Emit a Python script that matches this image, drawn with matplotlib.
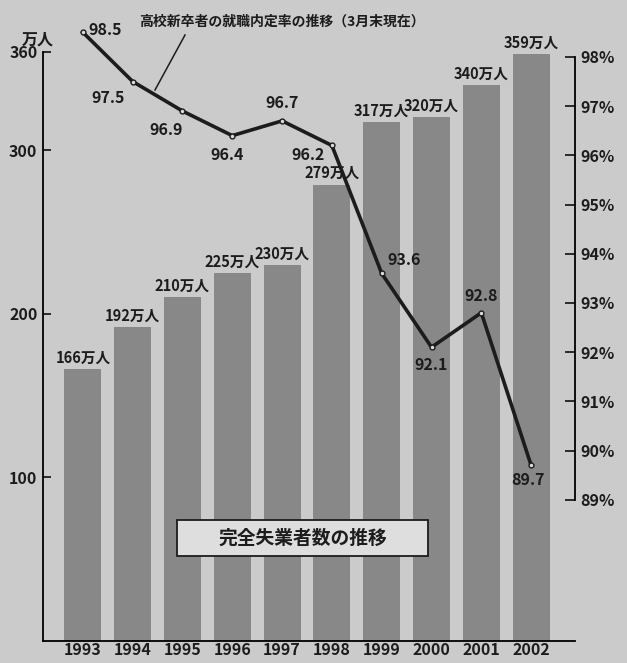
import matplotlib.pyplot as plt
import matplotlib.patches as mpatches
import numpy as np

plt.rcParams['font.family'] = ['Noto Sans CJK JP', 'DejaVu Sans']
plt.rcParams['font.weight'] = 'bold'

years = ['1993', '1994', '1995', '1996', '1997', '1998', '1999', '2000', '2001', '2002']
unemployed = [166, 192, 210, 225, 230, 279, 317, 320, 340, 359]  # 万人
rate = [98.5, 97.5, 96.9, 96.4, 96.7, 96.2, 93.6, 92.1, 92.8, 89.7]  # %
left_ticks = [100, 200, 300, 360]
right_ticks = [89, 90, 91, 92, 93, 94, 95, 96, 97, 98]

# where each rate label goes relative to its point (dx, dy in points, ha, va)
rate_pos = [(4, 2, 'left', 'center'), (-6, -6, 'right', 'top'), (-12, -8, 'center', 'top'),
            (-4, -8, 'center', 'top'), (0, 7, 'center', 'bottom'), (-5, -7, 'right', 'center'),
            (4, 4, 'left', 'bottom'), (0, -7, 'center', 'top'), (0, 6, 'center', 'bottom'),
            (-2, -5, 'center', 'top')]

bg = '#cbcbcb'
bar_col = '#888888'
ink = '#1c1c1c'

fig = plt.figure(figsize=(6.27, 6.63), dpi=100, facecolor=bg)
ax = fig.add_axes([0.0686, 0.0332, 0.8484, 0.8884])
ax.set_facecolor(bg)
x = np.arange(len(years))

ax.bar(x, unemployed, width=0.74, color=bar_col, zorder=2)
for xi, v in zip(x, unemployed):
    ax.text(xi, v + 2, f'{v}万人', ha='center', va='bottom', fontsize=10.5, color=ink)

ax.set_xlim(-0.8, 9.88)
ax.set_ylim(0, 360)
ax.set_yticks(left_ticks)
ax.set_yticklabels([str(t) for t in left_ticks], fontsize=11.5, color=ink)
ax.set_xticks(x)
ax.set_xticklabels(years, fontsize=11.5, color=ink)
ax.tick_params(axis='y', direction='in', length=6, width=1.3, pad=4, colors=ink)
ax.tick_params(axis='x', length=0, pad=1)
for s in ['top', 'right']:
    ax.spines[s].set_visible(False)
ax.spines['left'].set_linewidth(1.3)
ax.spines['bottom'].set_linewidth(1.3)
ax.text(-1.22, 363, '万人', fontsize=11.5, color=ink, va='bottom', ha='left')

ax2 = ax.twinx()
ax2.set_ylim(86.13, 98.1)
ax2.plot(x, rate, color=ink, lw=2.6, marker='o', ms=3.5, mfc='#dddddd', mec=ink,
         clip_on=False, zorder=5)
for xi, v, (dx, dy, ha, va) in zip(x, rate, rate_pos):
    ax2.annotate(f'{v}', (xi, v), xytext=(dx, dy), textcoords='offset points',
                 ha=ha, va=va, fontsize=11.5, color=ink, annotation_clip=False)
ax2.set_yticks(right_ticks)
ax2.set_yticklabels([f'{t}%' for t in right_ticks], fontsize=11.5, color=ink)
ax2.tick_params(axis='y', direction='in', length=7, width=1.3, pad=4, colors=ink)
for s in ['top', 'left', 'bottom']:
    ax2.spines[s].set_visible(False)
ax2.spines['right'].set_bounds(89, 98)
ax2.spines['right'].set_linewidth(1.3)

# title with leader line
fig.text(0.222, 0.968, '高校新卒者の就職内定率の推移（3月末現在）', fontsize=10,
         color=ink, ha='left', va='center')
fig.add_artist(plt.Line2D([185 / 627, 155 / 627], [1 - 35 / 663, 1 - 90 / 663],
                          color=ink, lw=1.1))

# caption box for the bars
ax.add_patch(mpatches.Rectangle((1.89, 52), 5.04, 22, fc='#dedede', ec=ink, lw=1.3, zorder=6))
ax.text(4.41, 63, '完全失業者数の推移', fontsize=13.5, color=ink, ha='center', va='center',
        zorder=7)

fig.savefig('out.png', dpi=100, facecolor=bg)
